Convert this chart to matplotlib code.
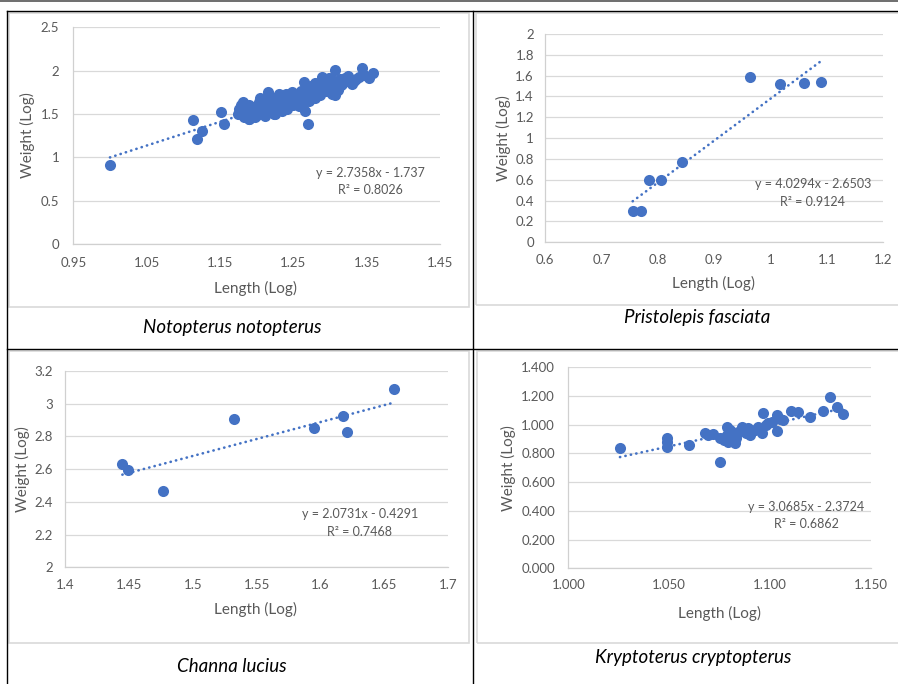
import matplotlib
matplotlib.use("Agg")
import matplotlib.pyplot as plt
import numpy as np
from matplotlib.lines import Line2D
from matplotlib.patches import Rectangle

plt.rcParams['font.family'] = ['Lato', 'DejaVu Sans']

# ---------------- data ----------------
# Panel 1: Notopterus notopterus
noto_x = [1.000, 1.113, 1.119, 1.126, 1.151, 1.155, 1.270, 1.174, 1.181, 1.189,
          1.176, 1.183, 1.186, 1.190, 1.195, 1.198, 1.200, 1.203, 1.206, 1.209,
          1.212, 1.214, 1.216, 1.218, 1.220, 1.222, 1.225, 1.227, 1.230, 1.232,
          1.234, 1.236, 1.239, 1.241, 1.243, 1.245, 1.248, 1.250, 1.252, 1.254,
          1.256, 1.258, 1.260, 1.262, 1.264, 1.266, 1.268, 1.270, 1.272, 1.274,
          1.276, 1.278, 1.280, 1.282, 1.284, 1.286, 1.289, 1.291, 1.293, 1.295,
          1.297, 1.299, 1.301, 1.303, 1.305, 1.307, 1.309, 1.311, 1.314, 1.317,
          1.321, 1.325, 1.330, 1.335, 1.339, 1.344, 1.347, 1.353, 1.359, 1.307,
          1.324, 1.333, 1.190, 1.200, 1.210, 1.180, 1.195, 1.225, 1.235, 1.245,
          1.255, 1.265, 1.275, 1.285, 1.295, 1.280, 1.290, 1.300, 1.315, 1.265,
          1.223, 1.189, 1.178, 1.205, 1.228, 1.240, 1.250, 1.260, 1.285, 1.298]
noto_y = [0.910, 1.435, 1.212, 1.308, 1.527, 1.381, 1.381, 1.498, 1.635, 1.439,
          1.560, 1.470, 1.540, 1.600, 1.510, 1.460, 1.560, 1.635, 1.520, 1.590,
          1.478, 1.650, 1.753, 1.560, 1.620, 1.690, 1.498, 1.580, 1.733, 1.640,
          1.540, 1.700, 1.616, 1.560, 1.655, 1.720, 1.753, 1.600, 1.680, 1.640,
          1.720, 1.590, 1.760, 1.660, 1.871, 1.537, 1.700, 1.780, 1.650, 1.820,
          1.740, 1.733, 1.690, 1.850, 1.780, 1.720, 1.930, 1.800, 1.812, 1.760,
          1.880, 1.840, 1.900, 1.733, 1.820, 2.008, 1.870, 1.780, 1.900, 1.850,
          1.910, 1.880, 1.851, 1.900, 1.930, 2.028, 1.950, 1.910, 1.969, 1.715,
          1.935, 1.877, 1.520, 1.490, 1.550, 1.510, 1.580, 1.600, 1.660, 1.620,
          1.700, 1.750, 1.780, 1.800, 1.850, 1.860, 1.880, 1.790, 1.840, 1.640,
          1.500, 1.440, 1.600, 1.690, 1.700, 1.730, 1.720, 1.700, 1.760, 1.920]

# Panel 2: Pristolepis fasciata
pris_x = [0.7555, 0.770, 0.7844, 0.8057, 0.8435, 0.9635, 1.0167, 1.0593, 1.0894]
pris_y = [0.300, 0.300, 0.598, 0.600, 0.774, 1.590, 1.520, 1.526, 1.542]

# Panel 3: Channa lucius
chan_x = [1.4449, 1.4496, 1.4764, 1.5325, 1.5951, 1.6178, 1.6210, 1.6578]
chan_y = [2.632, 2.595, 2.466, 2.905, 2.850, 2.925, 2.825, 3.088]

# Panel 4: Kryptoterus cryptopterus
kryp_x = [1.0256, 1.0487, 1.0487, 1.0487, 1.0600, 1.0677, 1.0719, 1.0752, 1.0752,
          1.0785, 1.0785, 1.0793, 1.0826, 1.0826, 1.0859, 1.0892, 1.0925, 1.0966,
          1.0958, 1.1008, 1.1033, 1.1033, 1.1066, 1.1102, 1.1140, 1.1200, 1.1264,
          1.1297, 1.1330, 1.1363, 1.0801, 1.0900, 1.0810, 1.0840, 1.0870, 1.0980,
          1.0690, 1.0770, 1.0800, 1.0880, 1.0940, 1.0990, 1.1050, 1.0830]
kryp_y = [0.836, 0.910, 0.878, 0.847, 0.859, 0.940, 0.933, 0.905, 0.738,
          0.986, 0.928, 0.882, 0.870, 0.928, 0.986, 0.975, 0.963, 1.079,
          0.940, 1.021, 1.068, 0.956, 1.033, 1.095, 1.086, 1.051, 1.095,
          1.190, 1.126, 1.075, 0.952, 0.928, 0.900, 0.950, 0.960, 1.000,
          0.925, 0.895, 0.965, 0.945, 0.985, 1.010, 1.040, 0.905]

# trendline equations shown on the chart
eq_noto = (2.7358, -1.737, "y = 2.7358x - 1.737", "R² = 0.8026")
eq_pris = (4.0294, -2.6503, "y = 4.0294x - 2.6503", "R² = 0.9124")
eq_chan = (2.0731, -0.4291, "y = 2.0731x - 0.4291", "R² = 0.7468")
eq_kryp = (3.0685, -2.3724, "y = 3.0685x - 2.3724", "R² = 0.6862")

# ticks
noto_xticks = [0.95, 1.05, 1.15, 1.25, 1.35, 1.45]
noto_xlabels = ["0.95", "1.05", "1.15", "1.25", "1.35", "1.45"]
noto_yticks = [0, 0.5, 1, 1.5, 2, 2.5]
noto_ylabels = ["0", "0.5", "1", "1.5", "2", "2.5"]

pris_xticks = [0.6, 0.7, 0.8, 0.9, 1.0, 1.1, 1.2]
pris_xlabels = ["0.6", "0.7", "0.8", "0.9", "1", "1.1", "1.2"]
pris_yticks = [0, 0.2, 0.4, 0.6, 0.8, 1.0, 1.2, 1.4, 1.6, 1.8, 2.0]
pris_ylabels = ["0", "0.2", "0.4", "0.6", "0.8", "1", "1.2", "1.4", "1.6", "1.8", "2"]

chan_xticks = [1.4, 1.45, 1.5, 1.55, 1.6, 1.65, 1.7]
chan_xlabels = ["1.4", "1.45", "1.5", "1.55", "1.6", "1.65", "1.7"]
chan_yticks = [2.0, 2.2, 2.4, 2.6, 2.8, 3.0, 3.2]
chan_ylabels = ["2", "2.2", "2.4", "2.6", "2.8", "3", "3.2"]

kryp_xticks = [1.0, 1.05, 1.1, 1.15]
kryp_xlabels = ["1.000", "1.050", "1.100", "1.150"]
kryp_yticks = [0, 0.2, 0.4, 0.6, 0.8, 1.0, 1.2, 1.4]
kryp_ylabels = ["0.000", "0.200", "0.400", "0.600", "0.800", "1.000", "1.200", "1.400"]

captions = ["Notopterus notopterus", "Pristolepis fasciata", "Channa lucius",
            "Kryptoterus cryptopterus"]

# ---------------- layout ----------------
W, H = 898, 684
fig = plt.figure(figsize=(W / 100, H / 100), dpi=100)

def fx(px):
    return px / W

def fy(py):
    return 1 - py / H

BLUE = "#4472C4"
GRID = "#D9D9D9"
TXT = "#595959"

def panel(rect, x, y, eq, xticks, xlabels, yticks, ylabels, ypad, xpad,
          eq_pos, xlab_pos, ylab_pos, cap_pos, caption):
    l, r, t, b = rect
    ax = fig.add_axes([fx(l), fy(b), fx(r) - fx(l), fy(t) - fy(b)])
    ax.set_xlim(xticks[0], xticks[-1])
    ax.set_ylim(yticks[0], yticks[-1])
    ax.set_xticks(xticks)
    ax.set_xticklabels(xlabels)
    ax.set_yticks(yticks)
    ax.set_yticklabels(ylabels)
    ax.tick_params(axis='both', length=0, labelsize=9.5, labelcolor=TXT)
    ax.tick_params(axis='y', pad=ypad)
    ax.tick_params(axis='x', pad=xpad)
    ax.grid(axis='y', color=GRID, lw=0.9)
    ax.set_axisbelow(True)
    for s in ['top', 'right']:
        ax.spines[s].set_visible(False)
    for s in ['left', 'bottom']:
        ax.spines[s].set_color("#D0D0D0")
        ax.spines[s].set_linewidth(0.9)
    ax.scatter(x, y, s=64, color=BLUE, zorder=3, linewidths=0)
    xs = np.array([min(x), max(x)])
    ax.plot(xs, eq[0] * xs + eq[1], color=BLUE, lw=1.9,
            linestyle=(0, (0.1, 2.0)), dash_capstyle='round', zorder=4)
    ax.set_facecolor('none')
    fig.text(fx(eq_pos[0]), fy(eq_pos[1]), eq[2], ha='center', va='center',
             fontsize=9, color=TXT)
    fig.text(fx(eq_pos[0]), fy(eq_pos[1] + 17.5), eq[3], ha='center', va='center',
             fontsize=9, color=TXT)
    fig.text(fx(xlab_pos[0]), fy(xlab_pos[1]), "Length (Log)", ha='center',
             va='center', fontsize=11, color=TXT)
    fig.text(fx(ylab_pos[0]), fy(ylab_pos[1]), "Weight (Log)", ha='center',
             va='center', fontsize=11, color=TXT, rotation=90)
    fig.text(fx(cap_pos[0]), fy(cap_pos[1]), caption, ha='center', va='center',
             fontsize=13.5, style='italic', color='black')
    return ax

# chart-area boxes (light grey)
for (l, t, r, b) in [(9, 13, 469, 307), (476, 13, 905, 305),
                     (9, 351, 469, 643), (477, 351, 905, 643)]:
    fig.add_artist(Rectangle((fx(l), fy(b)), fx(r) - fx(l), fy(t) - fy(b),
                             transform=fig.transFigure, fill=False,
                             edgecolor=GRID, lw=1.2))

panel((73.3, 440, 27.3, 244), noto_x, noto_y, eq_noto, noto_xticks, noto_xlabels,
      noto_yticks, noto_ylabels, 10, 9.4, (370, 173), (256, 288), (27, 135),
      (232, 328), captions[0])
panel((545, 883.3, 34, 242.3), pris_x, pris_y, eq_pris, pris_xticks, pris_xlabels,
      pris_yticks, pris_ylabels, 8, 8.6, (812.7, 184.3), (713, 283), (503, 138),
      (697, 318), captions[1])
panel((65, 448.3, 371, 567.3), chan_x, chan_y, eq_chan, chan_xticks, chan_xlabels,
      chan_yticks, chan_ylabels, 8.5, 8.4, (359.7, 514), (256, 609), (22, 469),
      (232, 667), captions[2])
panel((568.3, 871, 367.3, 568.3), kryp_x, kryp_y, eq_kryp, kryp_xticks, kryp_xlabels,
      kryp_yticks, kryp_ylabels, 9.5, 7.7, (806.3, 506.7), (720, 613), (508, 468),
      (693, 658), captions[3])

# table borders (black)
def hline(py, x0, x1, c='black', lw=1.0):
    fig.add_artist(Line2D([fx(x0), fx(x1)], [fy(py), fy(py)], transform=fig.transFigure,
                          color=c, lw=lw))

def vline(px, y0, y1, c='black', lw=1.0):
    fig.add_artist(Line2D([fx(px), fx(px)], [fy(y0), fy(y1)], transform=fig.transFigure,
                          color=c, lw=lw))

hline(0.6, 0, W, c='#555555', lw=1.2)
hline(11, 7, W)
hline(349, 7, W)
vline(7, 11, H)
vline(472.5, 11, H)

fig.savefig("out.png", dpi=100)
